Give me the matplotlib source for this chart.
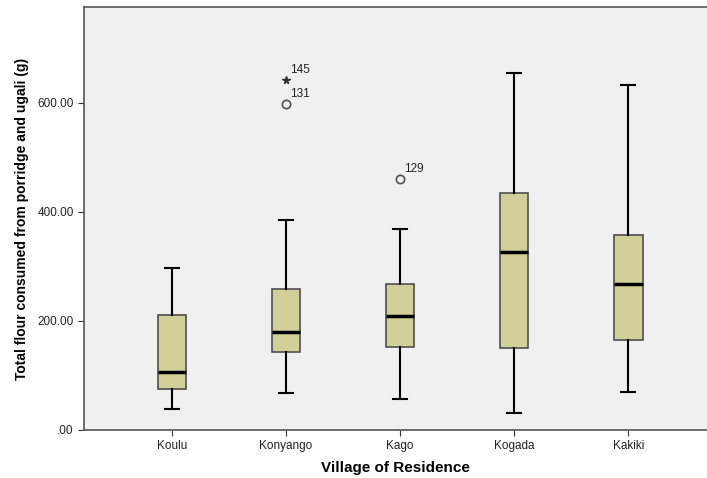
import matplotlib
matplotlib.use("Agg")
import matplotlib.pyplot as plt

plt.rcParams['font.family'] = ['Liberation Sans', 'DejaVu Sans']

villages = ["Koulu", "Konyango", "Kago", "Kogada", "Kakiki"]
whislo = [38, 67, 57, 32, 70]
q1 = [76, 144, 153, 150, 165]
med = [107, 180, 209, 326, 267]
q3 = [211, 258, 267, 434, 357]
whishi = [297, 385, 369, 655, 632]

# outliers: (village index, value, case number)
out_pos = [2, 3]
out_val = [598, 460]
out_id = ["131", "129"]
ext_pos = [2]
ext_val = [642]
ext_id = ["145"]

yticks = [0, 200, 400, 600]
ylabels = [".00", "200.00", "400.00", "600.00"]

fig = plt.figure(figsize=(7.07, 4.78), dpi=100)
ax = fig.add_axes([84/707, 48/478, 623/707, 423/478])
ax.set_facecolor("#f0f0f0")

stats = []
for i in range(len(villages)):
    stats.append(dict(whislo=whislo[i], q1=q1[i], med=med[i], q3=q3[i],
                      whishi=whishi[i], fliers=[], label=villages[i]))

positions = list(range(1, len(villages) + 1))
ax.bxp(stats, positions=positions, widths=0.25, patch_artist=True,
       showfliers=False,
       boxprops=dict(facecolor="#d3cf98", edgecolor="#505050", linewidth=1.2),
       medianprops=dict(color="black", linewidth=2.5),
       whiskerprops=dict(color="black", linewidth=1.5),
       capprops=dict(color="black", linewidth=1.5), capwidths=0.125)

ax.plot(out_pos, out_val, linestyle="none", marker="o", markersize=6,
        markerfacecolor="none", markeredgecolor="#505050", markeredgewidth=1.2)
ax.plot(ext_pos, ext_val, linestyle="none", marker="*", markersize=5.5,
        color="#303030")
for p, v, t in zip(out_pos + ext_pos, out_val + ext_val, out_id + ext_id):
    ax.annotate(t, (p, v), xytext=(3, 5), textcoords="offset points",
                fontsize=8.5, color="#222222")

ax.set_xlim(0.228, 5.69)
ax.set_ylim(0, 776)
ax.set_yticks(yticks)
ax.set_yticklabels(ylabels, fontsize=8.5, color="#222222")
ax.set_xticks(positions)
ax.set_xticklabels(villages, fontsize=8.5, color="#222222")
ax.tick_params(axis="both", length=4, color="#333333")

for s in ["left", "bottom", "top"]:
    ax.spines[s].set_color("#555555")
    ax.spines[s].set_linewidth(1.2)
ax.spines["right"].set_visible(False)

ax.set_xlabel("Village of Residence", fontsize=11, fontweight="bold", labelpad=6)
ax.set_ylabel("Total flour consumed from porridge and ugali (g)", fontsize=10,
              fontweight="bold", labelpad=6)

fig.savefig("out.png", dpi=100)
